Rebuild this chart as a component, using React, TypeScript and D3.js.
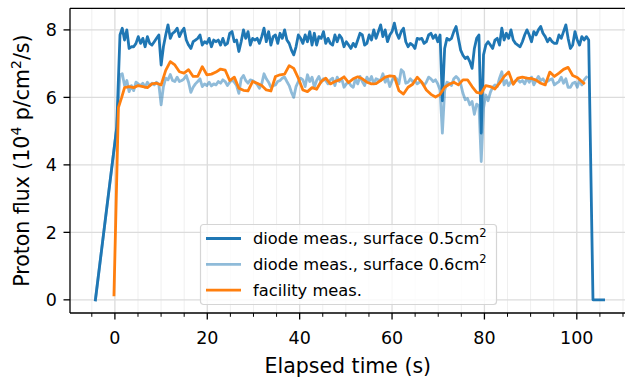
import React, { useEffect, useRef } from "react";
import * as d3 from "d3";

// ramp shared by both diodes before the beam plateau
const rampTimes = [-4.22, 0.39];
const rampValues = [0, 5.1];

// diode sampling
const diodeStart = 1.1;
const diodeStep = 0.495;

// diode meas., surface 0.5 cm2
const diodeSmall = [
  7.85, 8.05, 7.7, 8.0, 7.45, 7.5, 7.5, 7.6, 7.8, 7.6,
  7.75, 7.5, 7.8, 7.6, 7.55, 7.65, 7.75, 7.85, 6.96, 7.5,
  7.85, 8.15, 7.75, 7.9, 7.95, 8.05, 7.8, 7.95, 8.05, 7.7,
  7.55, 7.45, 7.65, 7.7, 7.75, 7.85, 7.55, 7.65, 7.6, 7.75,
  7.5, 7.7, 7.65, 7.7, 7.55, 7.75, 7.55, 7.6, 7.9, 7.95,
  7.65, 7.7, 7.36, 7.65, 8.0, 7.75, 7.95, 7.55, 7.75, 7.7,
  7.75, 7.6, 7.8, 8.05, 7.65, 7.95, 7.55, 7.8, 7.85, 7.6,
  7.9, 7.75, 8.0, 7.7, 7.6, 7.4, 7.26, 7.5, 7.85, 7.75,
  7.6, 7.85, 7.65, 7.95, 7.55, 7.9, 7.55, 7.8, 7.75, 7.95,
  7.6, 7.75, 7.6, 7.55, 7.85, 7.65, 7.85, 7.75, 7.5, 7.65,
  7.55, 7.45, 7.6, 7.5, 7.7, 7.9, 7.85, 7.55, 7.6, 7.85,
  7.7, 8.0, 7.75, 7.95, 8.15, 7.8, 8.0, 7.65, 7.85, 7.95,
  8.2, 7.9, 7.75, 7.95, 8.05, 7.65, 7.5, 7.6, 7.55, 7.45,
  7.75, 7.72, 7.75, 7.6, 7.65, 7.85, 7.9, 7.75, 7.85, 7.65,
  7.85, 5.9, 7.45, 7.75, 7.7, 7.75, 7.95, 8.1, 7.75, 7.4,
  7.25, 7.15, 7.2, 7.06, 6.86, 7.45, 7.75, 7.85, 4.94, 7.26,
  7.55, 7.65, 7.55, 7.45, 7.7, 7.75, 7.55, 8.05, 7.7, 7.9,
  7.75, 8.0, 7.7, 7.6, 7.55, 7.5, 7.65, 7.85, 8.0, 7.85,
  7.65, 7.95, 7.85, 8.0, 8.1, 7.9, 7.8, 7.65, 7.75, 7.65,
  7.6, 7.6, 7.85, 7.75, 7.95, 8.15, 7.75, 7.45, 7.55, 7.95,
  7.7, 7.55, 7.8, 7.7, 7.8, 7.7
];
const diodeSmallTailTimes = [103.5, 105.8];
const diodeSmallTailValues = [0, 0];

// diode meas., surface 0.6 cm2
const diodeLarge = [
  6.67, 6.7, 6.35, 6.5, 6.17, 6.35, 6.2, 6.45, 6.4, 6.35,
  6.42, 6.3, 6.45, 6.35, 6.42, 6.37, 6.45, 6.38, 5.78, 6.32,
  6.57, 6.52, 6.68, 6.5, 6.47, 6.6, 6.47, 6.5, 6.55, 6.65,
  6.45, 6.15, 6.3, 6.4, 6.47, 6.55, 6.32, 6.4, 6.35, 6.45,
  6.34, 6.4, 6.37, 6.47, 6.42, 6.52, 6.47, 6.35, 6.45, 6.52,
  6.45, 6.35, 6.12, 6.55, 6.65, 6.5, 6.42, 6.52, 6.5, 6.45,
  6.38, 6.27, 6.4, 6.7, 6.55, 6.45, 6.3, 6.35, 6.37, 6.47,
  6.5, 6.57, 6.6, 6.47, 6.35, 6.15, 6.0, 6.32, 6.47, 6.57,
  6.52, 6.32, 6.67, 6.47, 6.6, 6.3, 6.5, 6.62, 6.45, 6.55,
  6.5, 6.4, 6.52, 6.57, 6.35, 6.6, 6.47, 6.55, 6.3, 6.4,
  6.45, 6.35, 6.3, 6.55, 6.4, 6.62, 6.47, 6.35, 6.6, 6.47,
  6.62, 6.4, 6.55, 6.52, 6.5, 6.7, 6.45, 6.57, 6.32, 6.5,
  6.62, 6.55, 6.4, 6.82, 6.75, 6.42, 6.45, 6.55, 6.47, 6.5,
  6.4, 6.45, 6.45, 6.35, 6.45, 6.6, 6.55, 6.47, 6.52, 6.4,
  6.22, 4.94, 6.2, 6.45, 6.42, 6.35, 6.55, 6.62, 6.55, 6.4,
  6.12, 5.93, 5.97, 5.78, 5.88, 5.5, 5.8, 5.75, 4.1, 5.68,
  6.07, 5.9, 6.15, 6.3, 6.37, 6.32, 6.57, 6.76, 6.37, 6.5,
  6.35, 6.47, 6.4, 6.5, 6.52, 6.45, 6.5, 6.4, 6.57, 6.45,
  6.6, 6.37, 6.5, 6.62, 6.5, 6.55, 6.45, 6.48, 6.52, 6.55,
  6.37, 6.42, 6.47, 6.6, 6.42, 6.55, 6.3, 6.3, 6.42, 6.45,
  6.3, 6.52, 6.37, 6.52, 6.6
];

// facility meas.
const facilityHeadTimes = [-0.2, 0.76, 1.47];
const facilityHeadValues = [0.15, 5.7, 6.0];
const facilityStart = 2.09;
const facilityStep = 0.99;
const facility = [
  6.29, 6.32, 6.29, 6.35, 6.32, 6.29, 6.4, 6.42, 6.37, 6.8,
  7.06, 6.96, 6.76, 6.72, 6.82, 6.62, 6.62, 6.91, 6.67, 6.69,
  6.75, 6.84, 6.81, 6.5, 6.6, 6.27, 6.21, 6.19, 6.47, 6.42,
  6.35, 6.22, 6.19, 6.62, 6.67, 6.69, 6.94, 6.86, 6.57, 6.22,
  6.17, 6.29, 6.24, 6.47, 6.57, 6.4, 6.47, 6.52, 6.61, 6.44,
  6.55, 6.61, 6.55, 6.45, 6.4, 6.41, 6.5, 6.6, 6.64, 6.62,
  6.2, 6.1, 6.3, 6.39, 6.6, 6.45, 6.22, 6.09, 6.01, 6.09,
  6.3, 6.39, 6.45, 6.37, 6.52, 6.52, 6.32, 6.15, 6.12, 6.35,
  6.32, 6.25, 6.42, 6.62, 6.75, 6.39, 6.57, 6.6, 6.57, 6.56,
  6.51, 6.42, 6.37, 6.75, 6.62, 6.72, 6.83, 6.89, 6.65, 6.59,
  6.47
];
const facilityTailTimes = [101.5];
const facilityTailValues = [6.42];

const xMajorTicks = [0, 20, 40, 60, 80, 100];
const xMinorTicks = [-5, 5, 10, 15, 25, 30, 35, 45, 50, 55, 65, 70, 75, 85, 90, 95, 105, 110];
const yTicks = [0, 2, 4, 6, 8];

const legendItems = [
  { label: "diode meas., surface 0.5cm", sup: "2", color: "#1f77b4", opacity: 1 },
  { label: "diode meas., surface 0.6cm", sup: "2", color: "#1f77b4", opacity: 0.5 },
  { label: "facility meas.", sup: "", color: "#ff7f0e", opacity: 1 }
];

type Pt = [number, number];

const zipPts = (times: number[], values: number[]): Pt[] =>
  times.map((t, i) => [t, values[i]] as Pt);

const sampled = (start: number, step: number, values: number[]): Pt[] =>
  values.map((v, i) => [start + i * step, v] as Pt);

const FONT = "DejaVu Sans, sans-serif";

function Chart() {
  const ref = useRef<SVGSVGElement | null>(null);

  useEffect(() => {
    const W = 625;
    const H = 377;
    const margin = { left: 70, top: 8.3, right: -4, bottom: 64 };
    const width = W - margin.left - margin.right;
    const height = H - margin.top - margin.bottom;

    const svg = d3.select(ref.current);
    svg.selectAll("*").remove();

    const x = d3.scaleLinear().domain([-9.72, 111.3]).range([0, width]);
    const y = d3.scaleLinear().domain([-0.39, 8.64]).range([height, 0]);

    const g = svg
      .append("g")
      .attr("transform", `translate(${margin.left},${margin.top})`);

    svg
      .append("defs")
      .append("clipPath")
      .attr("id", "plot-clip")
      .append("rect")
      .attr("width", width)
      .attr("height", height);

    // grid
    g.append("g")
      .selectAll("line")
      .data(xMinorTicks)
      .enter()
      .append("line")
      .attr("x1", d => x(d))
      .attr("x2", d => x(d))
      .attr("y1", 0)
      .attr("y2", height)
      .attr("stroke", "#efefef")
      .attr("stroke-width", 1);

    g.append("g")
      .selectAll("line")
      .data(xMajorTicks)
      .enter()
      .append("line")
      .attr("x1", d => x(d))
      .attr("x2", d => x(d))
      .attr("y1", 0)
      .attr("y2", height)
      .attr("stroke", "#dcdcdc")
      .attr("stroke-width", 1.3);

    g.append("g")
      .selectAll("line")
      .data(yTicks)
      .enter()
      .append("line")
      .attr("x1", 0)
      .attr("x2", width)
      .attr("y1", d => y(d))
      .attr("y2", d => y(d))
      .attr("stroke", "#dcdcdc")
      .attr("stroke-width", 1.3);

    // series
    const line = d3
      .line<Pt>()
      .x(d => x(d[0]))
      .y(d => y(d[1]));

    const ramp = zipPts(rampTimes, rampValues);
    const smallPts = ramp
      .concat(sampled(diodeStart, diodeStep, diodeSmall))
      .concat(zipPts(diodeSmallTailTimes, diodeSmallTailValues));
    const largePts = ramp.concat(sampled(diodeStart, diodeStep, diodeLarge));
    const facilityPts = zipPts(facilityHeadTimes, facilityHeadValues)
      .concat(sampled(facilityStart, facilityStep, facility))
      .concat(zipPts(facilityTailTimes, facilityTailValues));

    const plot = g.append("g").attr("clip-path", "url(#plot-clip)");
    [
      { pts: smallPts, item: legendItems[0] },
      { pts: largePts, item: legendItems[1] },
      { pts: facilityPts, item: legendItems[2] }
    ].forEach(s => {
      plot
        .append("path")
        .attr("d", line(s.pts))
        .attr("fill", "none")
        .attr("stroke", s.item.color)
        .attr("stroke-opacity", s.item.opacity)
        .attr("stroke-width", 2.8)
        .attr("stroke-linejoin", "round")
        .attr("stroke-linecap", "square");
    });

    // spines
    g.append("line")
      .attr("x1", 0).attr("x2", width).attr("y1", 0).attr("y2", 0)
      .attr("stroke", "#000").attr("stroke-width", 1.3);
    g.append("line")
      .attr("x1", 0).attr("x2", width).attr("y1", height).attr("y2", height)
      .attr("stroke", "#000").attr("stroke-width", 1.3);
    g.append("line")
      .attr("x1", 0).attr("x2", 0).attr("y1", 0).attr("y2", height)
      .attr("stroke", "#000").attr("stroke-width", 1.3);

    // x ticks
    g.append("g")
      .selectAll("line")
      .data(xMinorTicks)
      .enter()
      .append("line")
      .attr("x1", d => x(d))
      .attr("x2", d => x(d))
      .attr("y1", height)
      .attr("y2", height + 3.8)
      .attr("stroke", "#000")
      .attr("stroke-width", 1);

    g.append("g")
      .selectAll("line")
      .data(xMajorTicks)
      .enter()
      .append("line")
      .attr("x1", d => x(d))
      .attr("x2", d => x(d))
      .attr("y1", height)
      .attr("y2", height + 6.5)
      .attr("stroke", "#000")
      .attr("stroke-width", 1.3);

    g.append("g")
      .selectAll("text")
      .data(xMajorTicks)
      .enter()
      .append("text")
      .attr("x", d => x(d))
      .attr("y", height + 31.5)
      .attr("text-anchor", "middle")
      .attr("font-family", FONT)
      .attr("font-size", 17.5)
      .attr("fill", "#000")
      .text(d => d);

    // y ticks
    g.append("g")
      .selectAll("line")
      .data(yTicks)
      .enter()
      .append("line")
      .attr("x1", -6.5)
      .attr("x2", 0)
      .attr("y1", d => y(d))
      .attr("y2", d => y(d))
      .attr("stroke", "#000")
      .attr("stroke-width", 1.3);

    g.append("g")
      .selectAll("text")
      .data(yTicks)
      .enter()
      .append("text")
      .attr("x", -13)
      .attr("y", d => y(d))
      .attr("dy", "0.36em")
      .attr("text-anchor", "end")
      .attr("font-family", FONT)
      .attr("font-size", 17.5)
      .attr("fill", "#000")
      .text(d => d);

    // axis labels
    svg
      .append("text")
      .attr("x", margin.left + (x(xMajorTicks[0]) + x(xMajorTicks[5])) / 2 + 2)
      .attr("y", 373)
      .attr("text-anchor", "middle")
      .attr("font-family", FONT)
      .attr("font-size", 20.5)
      .attr("fill", "#000")
      .text("Elapsed time (s)");

    const yl = svg
      .append("text")
      .attr("transform", `translate(29,${margin.top + height / 2}) rotate(-90)`)
      .attr("text-anchor", "middle")
      .attr("font-family", FONT)
      .attr("font-size", 20.5)
      .attr("fill", "#000");
    yl.append("tspan").text("Proton flux (10");
    yl.append("tspan").attr("dy", -8.5).attr("font-size", 14).text("4");
    yl.append("tspan").attr("dy", 8.5).text(" p/cm");
    yl.append("tspan").attr("dy", -8.5).attr("font-size", 14).text("2");
    yl.append("tspan").attr("dy", 8.5).text("/s)");

    // legend
    const lg = svg.append("g").attr("transform", "translate(200,224)");
    lg.append("rect")
      .attr("x", 0.5)
      .attr("y", 0.5)
      .attr("width", 296)
      .attr("height", 80)
      .attr("rx", 3)
      .attr("fill", "#fff")
      .attr("fill-opacity", 0.8)
      .attr("stroke", "#d5d5d5")
      .attr("stroke-width", 1.2);

    legendItems.forEach((item, i) => {
      const cy = 14.5 + i * 25.8;
      lg.append("line")
        .attr("x1", 6)
        .attr("x2", 41)
        .attr("y1", cy)
        .attr("y2", cy)
        .attr("stroke", item.color)
        .attr("stroke-opacity", item.opacity)
        .attr("stroke-width", 2.8);
      const t = lg
        .append("text")
        .attr("x", 53)
        .attr("y", cy)
        .attr("dy", "0.36em")
        .attr("font-family", FONT)
        .attr("font-size", 16.3)
        .attr("fill", "#000");
      t.append("tspan").text(item.label);
      if (item.sup) {
        t.append("tspan").attr("dy", -7).attr("font-size", 11.5).text(item.sup);
      }
    });
  }, []);

  return (
    <svg
      ref={ref}
      width={625}
      height={377}
      style={{ position: "absolute", left: 0, top: 0, background: "#fff" }}
    />
  );
}

export default function App() {
  return <Chart />;
}
